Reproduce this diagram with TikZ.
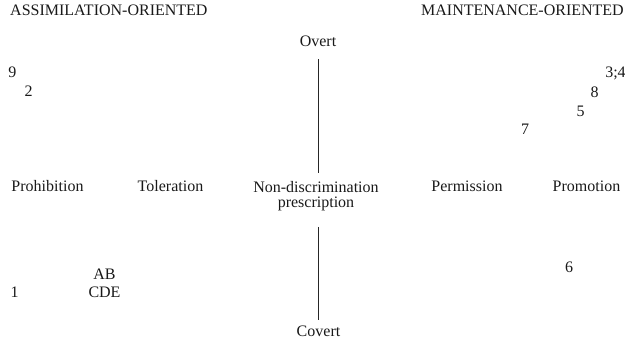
\documentclass[tikz,border=0pt]{standalone}
\usepackage{fontspec}
\setmainfont{Liberation Serif}
\begin{document}
\begin{tikzpicture}[x=1pt,y=-1pt,
  lbl/.style={inner sep=0pt,anchor=base,font=\fontsize{16}{15}\selectfont,text=black!90},
  axis/.style={line width=0.9pt,draw=black!85}]
\useasboundingbox (0,0) rectangle (625,345);
% headers
\node[lbl,anchor=base west] (assim) at (10,16) {ASSIMILATION-ORIENTED};
\node[lbl,anchor=base east] (maint) at (624,16) {MAINTENANCE-ORIENTED};
% axis ends
\node[lbl] (overt) at (318,47) {Overt};
\node[lbl] (covert) at (318.5,336) {Covert};
% scale labels
\node[lbl] (prohib) at (47.5,192) {Prohibition};
\node[lbl] (toler) at (170.5,192) {Toleration};
\node[lbl,anchor=north,align=center] (nondisc) at (316,181) {Non-discrimination\\prescription};
\node[lbl] (permis) at (467,192) {Permission};
\node[lbl] (promo) at (586.5,192) {Promotion};
% cases
\node[lbl] (n9) at (12.5,78) {9};
\node[lbl] (n2) at (28.5,97) {2};
\node[lbl] (n34) at (615.5,78) {3;4};
\node[lbl] (n8) at (594.5,98) {8};
\node[lbl] (n5) at (580.5,117) {5};
\node[lbl] (n7) at (525,135) {7};
\node[lbl] (n6) at (569,272) {6};
\node[lbl] (nab) at (104.5,279) {AB};
\node[lbl] (n1) at (14.5,297) {1};
\node[lbl] (ncde) at (104.5,297) {CDE};
% axis
\draw[axis] ([shift={(0,12)}]overt.south) -- ([shift={(0,-8)}]overt.south |- nondisc.north);
\draw[axis] ([shift={(0,16)}]overt.south |- nondisc.south) -- ([shift={(0,-5)}]overt.south |- covert.north);
\end{tikzpicture}
\end{document}
